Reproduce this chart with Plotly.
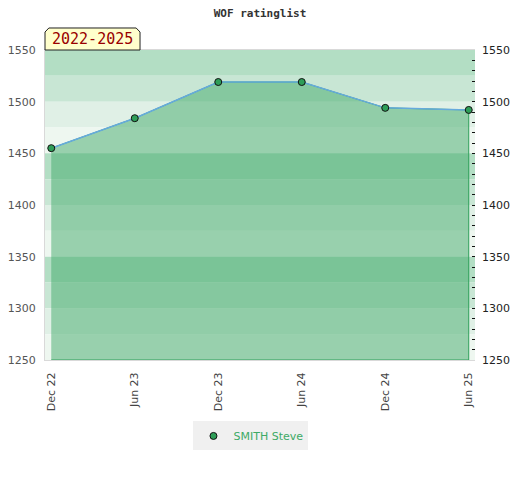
import plotly.graph_objects as go

# data
periods = ["Dec 22", "Jun 23", "Dec 23", "Jun 24", "Dec 24", "Jun 25"]
ratings = [1455, 1484, 1519, 1519, 1494, 1492]
player = "SMITH Steve"
span_label = "2022-2025"

y_min, y_max = 1250, 1550
tick_vals = [1250, 1300, 1350, 1400, 1450, 1500, 1550]

# background stripes, 25 pts each, repeating every 100 (darkest on top)
band_colors = ["#b3dec4", "#c8e6d4", "#e0f0e6", "#eef7f0"]

fig = go.Figure()

# shaded area under the rating line, closed down to the axis floor
fig.add_trace(
    go.Scatter(
        x=periods + [periods[-1], periods[0]],
        y=ratings + [y_min, y_min],
        fill="toself",
        fillcolor="rgba(66,169,106,0.5)",
        line=dict(color="#2ea05a", width=1),
        mode="lines",
        hoverinfo="skip",
        showlegend=False,
    )
)

fig.add_trace(
    go.Scatter(
        x=periods,
        y=ratings,
        mode="lines",
        line=dict(color="#66aadd", width=1.5),
        showlegend=False,
    )
)

fig.add_trace(
    go.Scatter(
        x=periods,
        y=ratings,
        mode="markers",
        name=player,
        marker=dict(size=7, color="#2e9e58", line=dict(color="#111111", width=1)),
        yaxis="y2",
    )
)

shapes = []
for i, lo in enumerate(range(y_max - 25, y_min - 1, -25)):
    shapes.append(
        dict(
            type="rect", xref="paper", yref="y",
            x0=0, x1=1, y0=lo, y1=lo + 25,
            fillcolor=band_colors[i % 4], line=dict(width=0), layer="below",
        )
    )

# yellow period tab with clipped top corners
shapes.append(
    dict(
        type="path", xref="paper", yref="paper",
        path="M 0,1 L 0,1.058 L 0.009,1.071 L 0.212,1.071 L 0.221,1.058 L 0.221,1 Z",
        fillcolor="#ffffcc", line=dict(color="#222222", width=1), layer="above",
    )
)

# page body adds an 8px offset, so the figure is 512x472 with trimmed margins
fig.update_layout(
    width=512,
    height=472,
    margin=dict(l=37, r=45, t=42, b=120, autoexpand=False),
    paper_bgcolor="white",
    plot_bgcolor="white",
    font=dict(family="DejaVu Sans", size=11, color="#444444"),
    title=dict(
        text="<b>WOF ratinglist</b>",
        x=(260 - 8) / 512, xanchor="center",
        y=1 - 5 / 472, yanchor="middle",
        font=dict(family="DejaVu Sans Mono", size=11, color="#333333"),
    ),
    shapes=shapes,
    annotations=[
        dict(
            text=span_label, xref="paper", yref="paper",
            x=0.1105, y=1.036, xanchor="center", yanchor="middle",
            showarrow=False,
            font=dict(family="DejaVu Sans Mono", size=15, color="#990000"),
        )
    ],
    xaxis=dict(
        type="category",
        range=[-0.075, 5.075],
        tickangle=-90,
        showgrid=False,
        showline=True, mirror=True, linecolor="#d9d9d9", linewidth=1,
        ticks="",
        ticklabelstandoff=7,
        tickfont=dict(size=11, color="#444444"),
        zeroline=False,
        automargin=False,
    ),
    yaxis=dict(
        range=[y_min, y_max],
        tickvals=tick_vals,
        showgrid=False,
        showline=True, linecolor="#d9d9d9",
        ticks="",
        ticklabelstandoff=6,
        tickfont=dict(size=11, color="#555555"),
        zeroline=False,
        automargin=False,
    ),
    yaxis2=dict(
        range=[y_min, y_max],
        overlaying="y",
        side="right",
        tickvals=tick_vals,
        showgrid=False,
        ticks="inside", ticklen=3, tickcolor="#111111", tickwidth=1,
        minor=dict(dtick=10, ticks="inside", ticklen=3, tickcolor="#111111", showgrid=False),
        ticklabelstandoff=6,
        tickfont=dict(size=11, color="#222222"),
        zeroline=False,
        automargin=False,
    ),
    legend=dict(
        orientation="h",
        x=0.479, xanchor="center",
        y=-0.245, yanchor="middle",
        bgcolor="#f0f0f0",
        font=dict(size=11, color="#3daa66"),
    ),
)

fig.write_html("out.html")
